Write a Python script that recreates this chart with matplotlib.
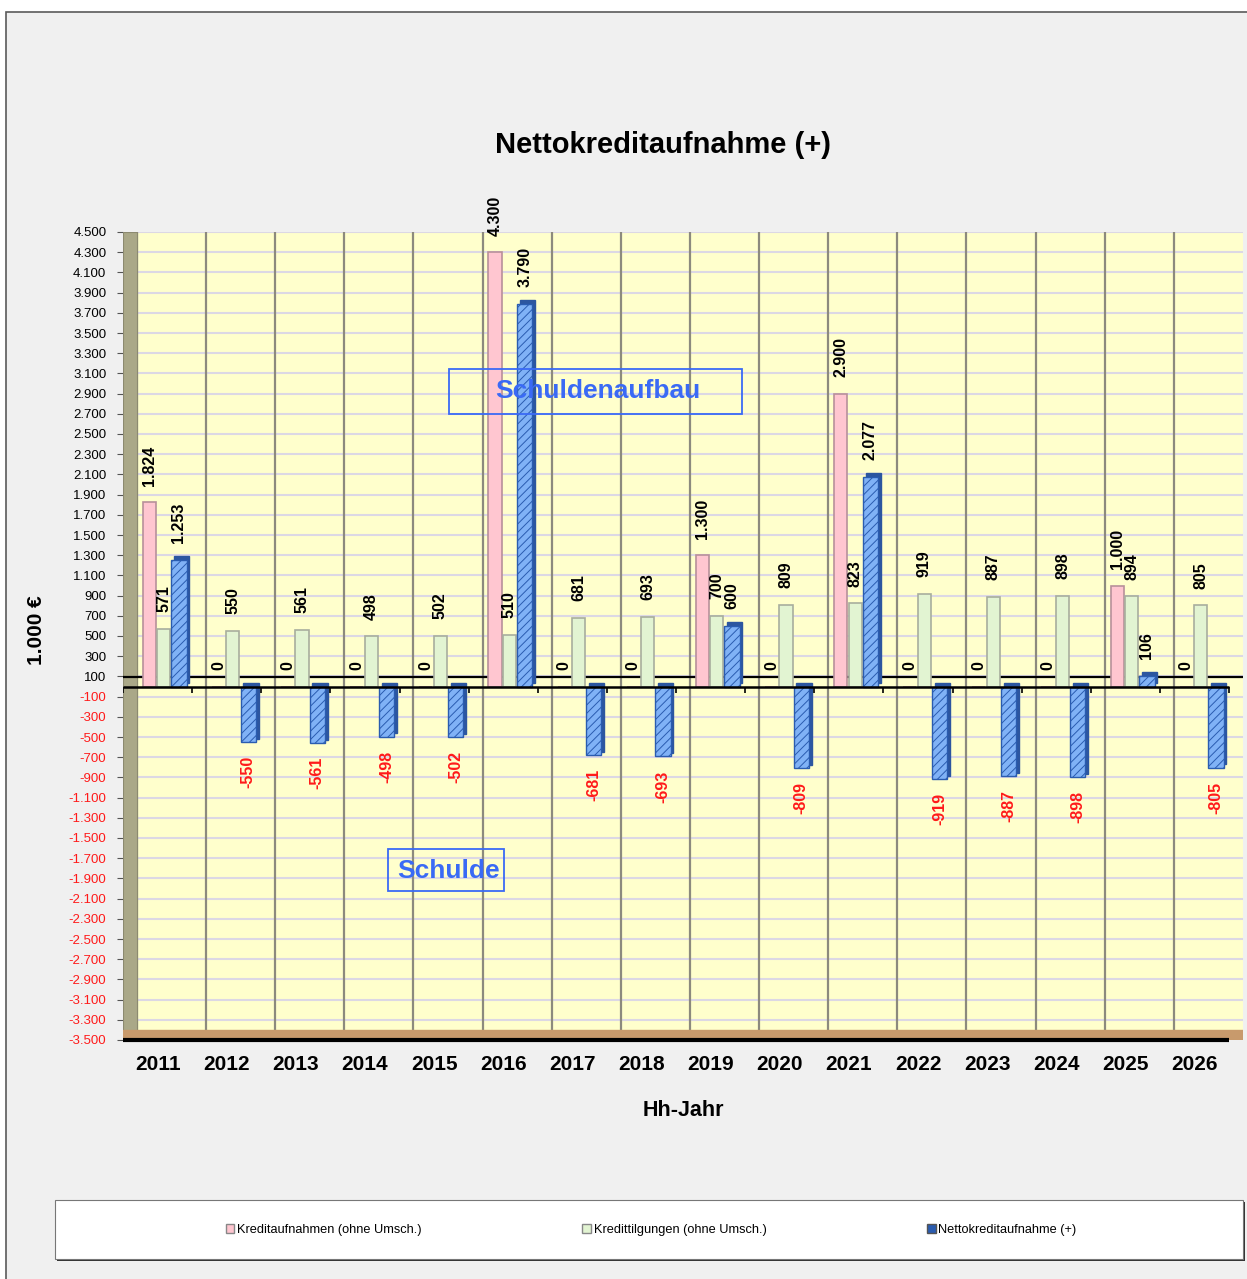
import numpy as np
import matplotlib
matplotlib.use("Agg")
import matplotlib.pyplot as plt
from matplotlib.patches import Rectangle, Patch

plt.rcParams['font.family'] = ['Liberation Sans', 'DejaVu Sans']
plt.rcParams['hatch.linewidth'] = 0.7

# Daten (in 1.000 €)
jahre = [2011, 2012, 2013, 2014, 2015, 2016, 2017, 2018,
         2019, 2020, 2021, 2022, 2023, 2024, 2025, 2026]
kreditaufnahmen = [1824, 0, 0, 0, 0, 4300, 0, 0, 1300, 0, 2900, 0, 0, 0, 1000, 0]
kredittilgungen = [571, 550, 561, 498, 502, 510, 681, 693, 700, 809, 823, 919, 887, 898, 894, 805]
netto = [1253, -550, -561, -498, -502, 3790, -681, -693, 600, -809, 2077, -919, -887, -898, 106, -805]

namen = ["Kreditaufnahmen (ohne Umsch.)", "Kredittilgungen (ohne Umsch.)", "Nettokreditaufnahme (+)"]
yticks = list(range(-3500, 4501, 200))


def de(v):
    return f"{v:,}".replace(",", ".")


W, H = 1247, 1279
fig = plt.figure(figsize=(W / 100, H / 100), dpi=100)
fig.patch.set_facecolor("white")

# grauer Hintergrundrahmen
fig.patches.append(Rectangle((6 / W, -0.01), 1.0, 1 - 12 / H + 0.01, transform=fig.transFigure,
                             facecolor="#f0f0f0", edgecolor="#5a5a5a", lw=1.2, zorder=-5))

ax = fig.add_axes([123 / W, 1 - 1040 / H, 1120 / W, 808 / H])
ax.set_zorder(2)
ax.set_facecolor("#ffffcc")
ax.set_xlim(-0.5, 15.7)
ax.set_ylim(-3500, 4500)

x = np.arange(len(jahre))

# Gitter / Wände
for t in yticks:
    ax.axhline(t, color="#dcd8e4", lw=1.5, zorder=1)
ax.vlines(x - 0.3, -3500, 4500, color="#8c8a7e", lw=1.6, zorder=1)
ax.add_patch(Rectangle((0, 0), 0.0125, 1, transform=ax.transAxes,
                       facecolor="#aaa888", edgecolor="#8c8a70", lw=0.8, zorder=2))
ax.axhspan(-3500, -3400, color="#c89a6c", zorder=2)

# Balken
ax.bar(x - 0.12, kreditaufnahmen, width=0.19, color="#ffc6d0", edgecolor="#b8909a", lw=1.2, zorder=4)
ax.bar(x + 0.09, kredittilgungen, width=0.19, color="#e2f4d2", edgecolor="#a8ae9e", lw=1.2, zorder=4)
ax.bar(x + 0.35, netto, width=0.22, bottom=35, color="#2c56a0", edgecolor="#2c56a0", lw=1, zorder=5)
ax.bar(x + 0.31, netto, width=0.22, color="#80b2f6", edgecolor="#2a5cb0", hatch="////", lw=1, zorder=6)

# Nulllinien
ax.axhline(95, color="black", lw=1.6, zorder=3)
ax.hlines(0, -0.5, 15.5, color="black", lw=1.8, zorder=7)
ax.vlines(np.append(x - 0.5, 15.5), -60, 0, color="black", lw=1.2, zorder=7)
ax.hlines(-3500, -0.5, 15.5, color="black", lw=3, zorder=7, clip_on=False)

# Datenbeschriftungen
lab = dict(rotation=90, ha="center", fontsize=11.5, fontweight="bold", textcoords="offset points", zorder=9)
for i in x:
    ax.annotate(de(kreditaufnahmen[i]), (i - 0.12, kreditaufnahmen[i]), xytext=(0, 12), va="bottom", **lab)
    ax.annotate(de(kredittilgungen[i]), (i + 0.09, kredittilgungen[i]), xytext=(0, 12), va="bottom", **lab)
    if netto[i] >= 0:
        ax.annotate(de(netto[i]), (i + 0.31, netto[i]), xytext=(0, 12), va="bottom", **lab)
    else:
        ax.annotate(de(netto[i]), (i + 0.31, netto[i]), xytext=(0, -10), va="top", color="#ff1a1a", **lab)

# Achsen
ax.set_xticks(x)
ax.set_xticklabels([str(j) for j in jahre], fontsize=15, fontweight="bold")
ax.tick_params(axis="x", length=0, pad=11)
ax.set_yticks(yticks)
ax.set_yticklabels([de(t) for t in yticks], fontsize=9.5)
for t, l in zip(yticks, ax.get_yticklabels()):
    if t < 0:
        l.set_color("#ff1a1a")
ax.tick_params(axis="y", length=4, pad=8, color="#555555")
for s in ["top", "right", "left", "bottom"]:
    ax.spines[s].set_visible(False)
ax.grid(False)

fig.text(663 / W, 1 - 145 / H, "Nettokreditaufnahme (+)", ha="center", va="center", fontsize=21, fontweight="bold")
fig.text(37 / W, 1 - 630 / H, "1.000 €", ha="center", va="center", rotation=90, fontsize=15, fontweight="bold")
fig.text(683 / W, 1 - 1111 / H, "Hh-Jahr", ha="center", va="center", fontsize=15.5, fontweight="bold")

# Hinweisfelder
blau = "#3a6af5"
fig.patches.append(Rectangle((449 / W, 1 - 414 / H), 293 / W, 45 / H, transform=fig.transFigure,
                             fill=False, edgecolor=blau, lw=1.3, zorder=10))
fig.text(598 / W, 1 - 391 / H, "Schuldenaufbau", ha="center", va="center", fontsize=19,
         fontweight="bold", color=blau, zorder=11)
fig.patches.append(Rectangle((388 / W, 1 - 891 / H), 116 / W, 42 / H, transform=fig.transFigure,
                             fill=False, edgecolor=blau, lw=1.3, zorder=10))
fig.text(449 / W, 1 - 871 / H, "Schulde", ha="center", va="center", fontsize=19,
         fontweight="bold", color=blau, zorder=11)

# Legende
fig.patches.append(Rectangle((57 / W, 1 - 1261 / H), 1188 / W, 59 / H, transform=fig.transFigure,
                             facecolor="#333333", edgecolor="none", zorder=1))
fig.patches.append(Rectangle((55 / W, 1 - 1259 / H), 1188 / W, 59 / H, transform=fig.transFigure,
                             facecolor="white", edgecolor="#777777", lw=0.8, zorder=2))
handles = [Patch(facecolor="#ffc6d0", edgecolor="#888888"),
           Patch(facecolor="#e2f4d2", edgecolor="#888888"),
           Patch(facecolor="#2a5cb0", edgecolor="#555555")]
fig.legend(handles, namen, loc="center", bbox_to_anchor=(214 / W, 1 - 1240 / H, 874 / W, 20 / H),
           mode="expand", ncol=3, frameon=False, fontsize=9.2, handlelength=0.7, handleheight=0.7,
           handletextpad=0.2)

fig.savefig("out.png", dpi=100)
